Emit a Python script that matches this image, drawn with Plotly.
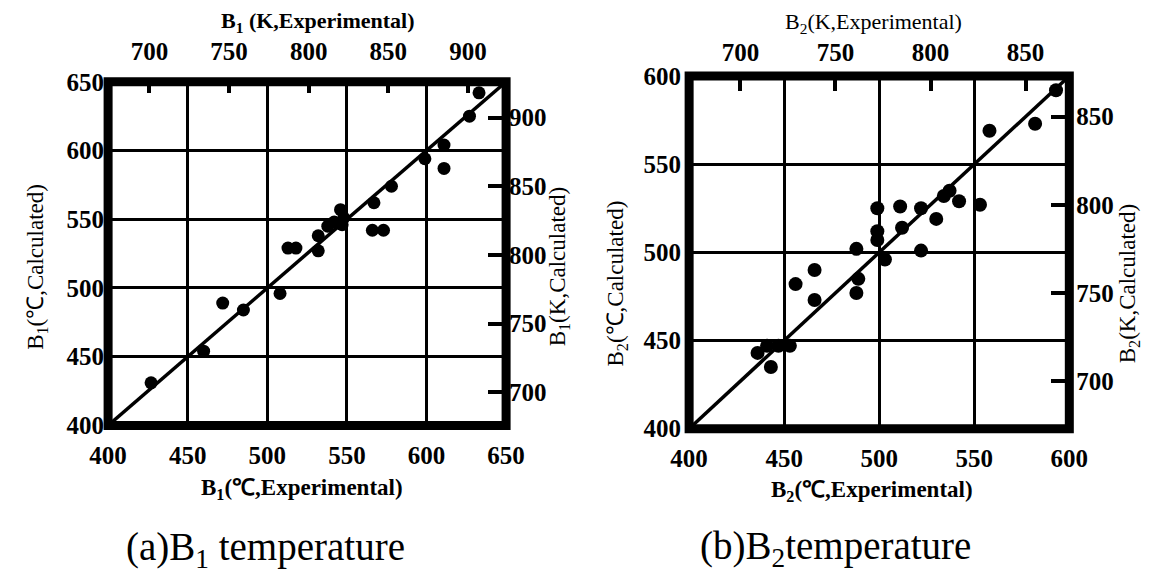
import plotly.graph_objects as go

W, H = 1166, 574

# ---------------- data ----------------
b1_exp = [427, 460, 472, 485, 508, 513, 518, 532, 532, 538, 542, 547, 546, 548,
          566, 573, 567, 578, 599, 611, 611, 627, 633]
b1_calc = [431, 454, 489, 484, 496, 529, 529, 527, 538, 545, 548, 546, 557, 551,
           542, 542, 562, 574, 594, 604, 587, 625, 642]

b2_exp = [593, 582, 558, 553, 542, 537, 534, 530, 522, 522, 511, 512, 499, 499,
          499, 503, 488, 489, 488, 466, 466, 456, 453, 443, 436, 441, 447]
b2_calc = [592, 573, 569, 527, 529, 535, 532, 519, 525, 501, 526, 514, 525, 512,
           507, 496, 502, 485, 477, 490, 473, 482, 447, 435, 443, 447, 447]

diag1 = [400, 650]
diag2 = [400, 600]

c_ticks1 = [400, 450, 500, 550, 600, 650]
k_ticks1 = [700, 750, 800, 850, 900]
c_ticks2 = [400, 450, 500, 550, 600]
k_ticks2 = [700, 750, 800, 850]

c_range1 = [400, 650]
kx_range1 = [674, 924]
ky_range1 = [676, 926]
c_range2 = [400, 600]
k_range2 = [673, 873]

# ---------------- layout helpers ----------------
def px_x(p):
    return p / W

def px_y(p):
    return (H - p) / H

SERIF = "Liberation Serif, Times New Roman, serif"
tick_font = dict(family=SERIF, size=25, color="black", weight="bold")

dom1x = [px_x(92.1), px_x(503.5)]
dom1y = [px_y(432.8), px_y(72.2)]
dom2x = [px_x(692.7), px_x(1085.7)]
dom2y = [px_y(436.2), px_y(66.2)]

fig = go.Figure()

# left panel
fig.add_trace(go.Scatter(x=diag1, y=diag1, mode="lines",
                         line=dict(color="black", width=3.5),
                         xaxis="x", yaxis="y", showlegend=False, hoverinfo="skip"))
fig.add_trace(go.Scatter(x=b1_exp, y=b1_calc, mode="markers",
                         marker=dict(color="black", size=13),
                         xaxis="x", yaxis="y", showlegend=False))
fig.add_trace(go.Scatter(x=[], y=[], xaxis="x2", yaxis="y2", showlegend=False))

# right panel
fig.add_trace(go.Scatter(x=diag2, y=diag2, mode="lines",
                         line=dict(color="black", width=3.5),
                         xaxis="x3", yaxis="y3", showlegend=False, hoverinfo="skip"))
fig.add_trace(go.Scatter(x=b2_exp, y=b2_calc, mode="markers",
                         marker=dict(color="black", size=14),
                         xaxis="x3", yaxis="y3", showlegend=False))
fig.add_trace(go.Scatter(x=[], y=[], xaxis="x4", yaxis="y4", showlegend=False))

grid_common = dict(showgrid=True, gridcolor="black", gridwidth=3,
                   zeroline=False, showline=False, ticks="",
                   tickfont=tick_font, fixedrange=True)
k_common = dict(showgrid=False, zeroline=False, showline=False,
                ticks="inside", tickcolor="black", tickwidth=3.5,
                tickfont=tick_font, fixedrange=True)

fig.update_layout(
    width=W, height=H, autosize=False,
    margin=dict(l=0, r=0, t=0, b=0),
    paper_bgcolor="white", plot_bgcolor="white",
    showlegend=False,
    # left panel axes
    xaxis=dict(domain=dom1x, anchor="y", range=c_range1, tickvals=c_ticks1,
               ticklabelstandoff=13, **grid_common),
    yaxis=dict(domain=dom1y, anchor="x", range=c_range1, tickvals=c_ticks1,
               ticklabelstandoff=3, **grid_common),
    xaxis2=dict(overlaying="x", side="top", anchor="y", range=kx_range1,
                tickvals=k_ticks1, ticklen=11, ticklabelstandoff=16, **k_common),
    yaxis2=dict(overlaying="y", side="right", anchor="x", range=ky_range1,
                tickvals=k_ticks1, ticklen=18, ticklabelstandoff=2, **k_common),
    # right panel axes
    xaxis3=dict(domain=dom2x, anchor="y3", range=c_range2, tickvals=c_ticks2,
                ticklabelstandoff=12, **grid_common),
    yaxis3=dict(domain=dom2y, anchor="x3", range=c_range2, tickvals=c_ticks2,
                ticklabelstandoff=7, **grid_common),
    xaxis4=dict(overlaying="x3", side="top", anchor="y3", range=k_range2,
                tickvals=k_ticks2, ticklen=15, ticklabelstandoff=9, **k_common),
    yaxis4=dict(overlaying="y3", side="right", anchor="x3", range=k_range2,
                tickvals=k_ticks2, ticklen=18, ticklabelstandoff=6, **k_common),
)

# thick frames
for dx, dy in [(dom1x, dom1y), (dom2x, dom2y)]:
    fig.add_shape(type="rect", xref="paper", yref="paper",
                  x0=dx[0], x1=dx[1], y0=dy[0], y1=dy[1],
                  line=dict(color="black", width=9), layer="above")

def ann(text, x, y, size, bold=False, angle=0):
    fig.add_annotation(text=text, x=px_x(x), y=px_y(y), xref="paper", yref="paper",
                       showarrow=False, textangle=angle,
                       xanchor="center", yanchor="middle",
                       font=dict(family=SERIF, size=size, color="black",
                                 weight="bold" if bold else "normal"))

# left panel texts
ann("B<sub>1</sub> (K,Experimental)", 309, 9, 22, bold=True)
ann("B<sub>1</sub>(℃,Experimental)", 293, 500, 23, bold=True)
ann("B<sub>1</sub>(℃,Calculated)", 19, 266, 23, angle=-90)
ann("B<sub>1</sub>(K,Calculated)", 559, 266, 23, angle=-90)
ann("(a)B<sub>1</sub> temperature", 255, 563, 39)

# right panel texts
ann("B<sub>2</sub>(K,Experimental)", 883, 10, 22)
ann("B<sub>2</sub>(℃,Experimental)", 882, 502, 23, bold=True)
ann("B<sub>2</sub>(℃,Calculated)", 618, 284, 23, angle=-90)
ann("B<sub>2</sub>(K,Calculated)", 1147, 284, 23, angle=-90)
ann("(b)B<sub>2</sub>temperature", 844, 562, 39)

fig.write_html("out.html")
